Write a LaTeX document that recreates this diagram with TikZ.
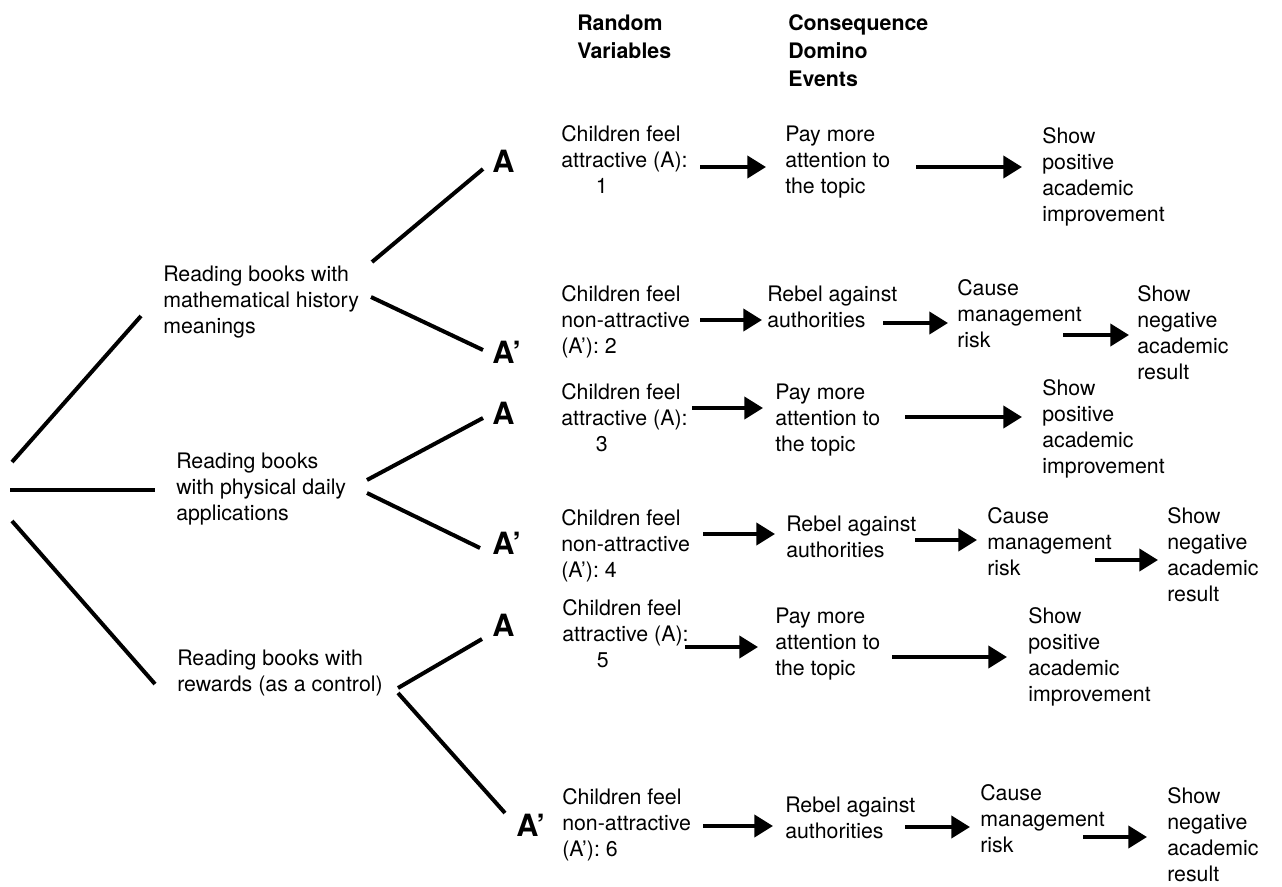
\documentclass[tikz,border=0pt]{standalone}
\usepackage{fontspec}
\setmainfont{TeX Gyre Heros}
\usetikzlibrary{arrows.meta}
\begin{document}
\begin{tikzpicture}[x=0.75pt,y=-0.75pt,
  % multi-line nodes: the position given is the baseline of the last line
  txt/.style={anchor=base west,inner sep=0pt,align=left,
    font=\fontsize{16}{19.5}\selectfont},
  head/.style={anchor=base west,inner sep=0pt,align=left,
    font=\fontsize{16}{21}\selectfont\bfseries},
  branch/.style={anchor=base west,inner sep=0pt,
    font=\fontsize{23}{26}\selectfont\bfseries},
  limb/.style={line width=3pt},
  arr/.style={line width=3pt,-{Triangle[length=14pt,width=16.5pt]}}]
\useasboundingbox (0,0) rectangle (1282,886);

% column headings
\node[head] (hrv) at (577,58) {Random\\Variables};
\node[head] (hcd) at (788,86) {Consequence\\Domino\\Events};

% strategies
\node[txt] (g1) at (163,333) {Reading books with\\mathematical history\\meanings};
\node[txt] (g2) at (176,520) {Reading books\\with physical daily\\applications};
\node[txt] (g3) at (177,691) {Reading books with\\rewards (as a control)};

% outcome letters
\node[branch] (a1) at (492,172) {A};
\node[branch] (b1) at (492,363) {A’};
\node[branch] (a2) at (492,424) {A};
\node[branch] (b2) at (492,554) {A’};
\node[branch] (a3) at (492,636) {A};
\node[branch] (b3) at (516,836) {A’};

% tree limbs
\coordinate (root1) at (12,462);  \coordinate (g1in) at (141,316);
\coordinate (root2) at (10,490);  \coordinate (g2in) at (155,490);
\coordinate (root3) at (12,521);  \coordinate (g3in) at (155,684);
\coordinate (g1up) at (372,262);  \coordinate (a1in) at (483,169);
\coordinate (g1dn) at (371,297);  \coordinate (b1in) at (483,350);
\coordinate (g2up) at (367,480);  \coordinate (a2in) at (483,418);
\coordinate (g2dn) at (367,493);  \coordinate (b2in) at (480,548);
\coordinate (g3up) at (398,688);  \coordinate (a3in) at (482,639);
\coordinate (g3dn) at (398,693);  \coordinate (b3in) at (505,813);
\draw[limb] (root1) -- (g1in);
\draw[limb] (root2) -- (g2in);
\draw[limb] (root3) -- (g3in);
\draw[limb] (g1up) -- (a1in);
\draw[limb] (g1dn) -- (b1in);
\draw[limb] (g2up) -- (a2in);
\draw[limb] (g2dn) -- (b2in);
\draw[limb] (g3up) -- (a3in);
\draw[limb] (g3dn) -- (b3in);

% row 1
\node[txt] (rv1) at (561,193) {Children feel\\attractive (A):\\\hspace*{26pt}1};
\node[txt] (e11) at (785,193) {Pay more\\attention to\\the topic};
\node[txt] (e12) at (1042,221) {Show\\positive\\academic\\improvement};
\coordinate (p11) at (700,167); \coordinate (q11) at (766,167);
\coordinate (p12) at (916,167); \coordinate (q12) at (1022,167);
\draw[arr] (p11) -- (q11);
\draw[arr] (p12) -- (q12);

% row 2
\node[txt] (rv2) at (561,353) {Children feel\\non-attractive\\(A’): 2};
\node[txt] (e21) at (767,327) {Rebel against\\authorities};
\node[txt] (e22) at (957,347) {Cause\\management\\risk};
\node[txt] (e23) at (1137,379) {Show\\negative\\academic\\result};
\coordinate (p21) at (700,320); \coordinate (q21) at (762,320);
\coordinate (p22) at (883,323); \coordinate (q22) at (948,323);
\coordinate (p23) at (1063,335); \coordinate (q23) at (1129,335);
\draw[arr] (p21) -- (q21);
\draw[arr] (p22) -- (q22);
\draw[arr] (p23) -- (q23);

% row 3
\node[txt] (rv3) at (561,451) {Children feel\\attractive (A):\\\hspace*{26pt}3};
\node[txt] (e31) at (775,451) {Pay more\\attention to\\the topic};
\node[txt] (e32) at (1042,473) {Show\\positive\\academic\\improvement};
\coordinate (p31) at (692,408); \coordinate (q31) at (763,408);
\coordinate (p32) at (905,417); \coordinate (q32) at (1022,417);
\draw[arr] (p31) -- (q31);
\draw[arr] (p32) -- (q32);

% row 4
\node[txt] (rv4) at (561,577) {Children feel\\non-attractive\\(A’): 4};
\node[txt] (e41) at (786,557) {Rebel against\\authorities};
\node[txt] (e42) at (987,575) {Cause\\management\\risk};
\node[txt] (e43) at (1167,601) {Show\\negative\\academic\\result};
\coordinate (p41) at (703,534); \coordinate (q41) at (775,534);
\coordinate (p42) at (915,540); \coordinate (q42) at (977,540);
\coordinate (p43) at (1095,560); \coordinate (q43) at (1158,560);
\draw[arr] (p41) -- (q41);
\draw[arr] (p42) -- (q42);
\draw[arr] (p43) -- (q43);

% row 5
\node[txt] (rv5) at (562,667) {Children feel\\attractive (A):\\\hspace*{26pt}5};
\node[txt] (e51) at (775,675) {Pay more\\attention to\\the topic};
\node[txt] (e52) at (1028,701) {Show\\positive\\academic\\improvement};
\coordinate (p51) at (685,647); \coordinate (q51) at (758,647);
\coordinate (p52) at (892,657); \coordinate (q52) at (1007,657);
\draw[arr] (p51) -- (q51);
\draw[arr] (p52) -- (q52);

% row 6
\node[txt] (rv6) at (562,856) {Children feel\\non-attractive\\(A’): 6};
\node[txt] (e61) at (785,838) {Rebel against\\authorities};
\node[txt] (e62) at (980,852) {Cause\\management\\risk};
\node[txt] (e63) at (1167,881) {Show\\negative\\academic\\result};
\coordinate (p61) at (703,826); \coordinate (q61) at (773,826);
\coordinate (p62) at (905,827); \coordinate (q62) at (970,827);
\coordinate (p63) at (1083,837); \coordinate (q63) at (1147,837);
\draw[arr] (p61) -- (q61);
\draw[arr] (p62) -- (q62);
\draw[arr] (p63) -- (q63);
\end{tikzpicture}
\end{document}
